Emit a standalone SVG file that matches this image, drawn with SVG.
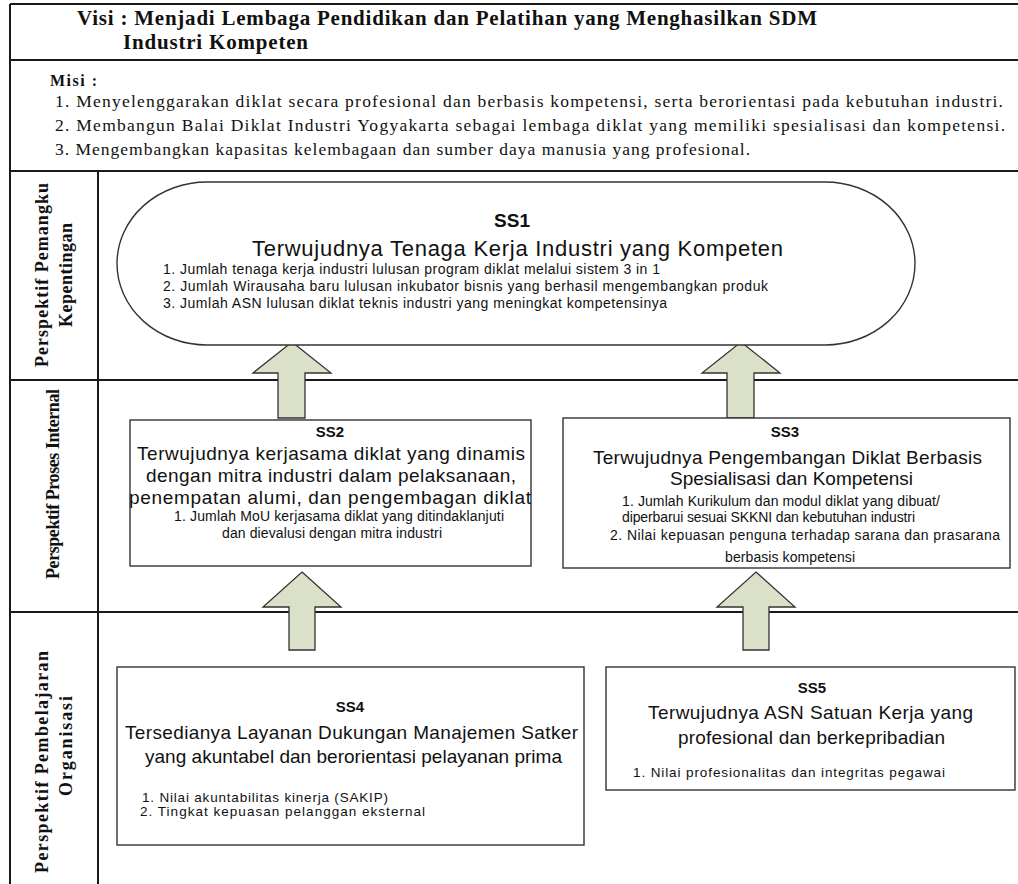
<svg xmlns="http://www.w3.org/2000/svg" width="1018" height="884" viewBox="0 0 1018 884">
<style>
.frame{stroke:#1a1a1a;stroke-width:2;fill:none}
.serifb{font-family:"Liberation Serif","Times New Roman",serif;font-weight:bold;fill:#111}
.serif{font-family:"Liberation Serif","Times New Roman",serif;fill:#111}
.sans{font-family:"Liberation Sans",Arial,sans-serif;fill:#111}
.sansb{font-family:"Liberation Sans",Arial,sans-serif;font-weight:bold;fill:#111}
.box{fill:#fff;stroke:#333;stroke-width:1.4}
.arrow{fill:#dbe1c9;stroke:#333;stroke-width:1.3;stroke-linejoin:miter}
.lane{font-size:18px}
.ttl{font-size:19px}
.itm{font-size:13.5px}
.ss{font-size:15px}
</style>
<rect width="1018" height="884" fill="#fff"/>
<g id="frame">
<line class="frame" x1="10" y1="4" x2="1018" y2="4"/>
<line class="frame" x1="10" y1="4" x2="10" y2="884"/>
<line class="frame" x1="10" y1="60" x2="1018" y2="60"/>
<line class="frame" x1="10" y1="171" x2="1018" y2="171"/>
<line class="frame" x1="98" y1="171" x2="98" y2="884"/>
<line class="frame" x1="10" y1="380" x2="1018" y2="380"/>
<line class="frame" x1="10" y1="612" x2="1018" y2="612"/>
</g>
<g id="visi">
<text class="serifb" font-size="21" x="77" y="25" textLength="740">Visi : Menjadi Lembaga Pendidikan dan Pelatihan yang Menghasilkan SDM</text>
<text class="serifb" font-size="21" x="123" y="49" textLength="185">Industri Kompeten</text>
</g>
<g id="misi">
<text class="serifb" font-size="16" x="50" y="86" textLength="47">Misi :</text>
<text class="serif" font-size="17.5" x="55" y="107" textLength="948">1. Menyelenggarakan diklat secara profesional dan berbasis kompetensi, serta berorientasi pada kebutuhan industri.</text>
<text class="serif" font-size="17.5" x="55" y="131" textLength="950">2. Membangun Balai Diklat Industri Yogyakarta sebagai lembaga diklat yang memiliki spesialisasi dan kompetensi.</text>
<text class="serif" font-size="17.5" x="55" y="155" textLength="695">3. Mengembangkan kapasitas kelembagaan dan sumber daya manusia yang profesional.</text>
</g>
<g id="lane-pemangku">
<text class="serifb lane" text-anchor="middle" transform="translate(48,275) rotate(-90)" textLength="184">Perspektif  Pemangku</text>
<text class="serifb lane" text-anchor="middle" transform="translate(72,275) rotate(-90)" textLength="104">Kepentingan</text>
</g>
<g id="lane-proses">
<text class="serifb lane" text-anchor="middle" transform="translate(59,484) rotate(-90)" textLength="190">Perspektif Proses Internal</text>
</g>
<g id="lane-pembelajaran">
<text class="serifb lane" text-anchor="middle" transform="translate(48,762) rotate(-90)" textLength="222">Perspektif Pembelajaran</text>
<text class="serifb lane" text-anchor="middle" transform="translate(72,746) rotate(-90)" textLength="100">Organisasi</text>
</g>
<g id="connectors">
<path class="arrow" d="M292,342 L331,373 L305,373 L305,418 L278,418 L278,373 L253,373 Z"/>
<path class="arrow" d="M741,342 L780,373 L754,373 L754,418 L727,418 L727,373 L702,373 Z"/>
<path class="arrow" d="M302,572 L341,607 L315,607 L315,650 L289,650 L289,607 L263,607 Z"/>
<path class="arrow" d="M756,572 L795,607 L769,607 L769,650 L743,650 L743,607 L717,607 Z"/>
</g>
<g id="SS1">
<rect class="box" x="117" y="182" width="798" height="163" rx="90" ry="81.5"/>
<text class="sansb" font-size="19" x="512" y="227" text-anchor="middle">SS1</text>
<text class="sans" font-size="22" x="252" y="256" textLength="531">Terwujudnya Tenaga Kerja Industri yang Kompeten</text>
<text class="sans" font-size="14" x="163" y="274" textLength="497">1. Jumlah tenaga kerja industri lulusan program diklat melalui sistem 3 in 1</text>
<text class="sans" font-size="14" x="163" y="291" textLength="605">2. Jumlah Wirausaha baru lulusan inkubator bisnis yang berhasil mengembangkan produk</text>
<text class="sans" font-size="14" x="163" y="308" textLength="504">3. Jumlah ASN lulusan diklat teknis industri yang meningkat kompetensinya</text>
</g>
<g id="SS2">
<rect class="box" x="130" y="420" width="401" height="146"/>
<text class="sansb ss" x="330" y="437" text-anchor="middle">SS2</text>
<text class="sans ttl" x="137" y="460" textLength="388">Terwujudnya kerjasama diklat yang dinamis</text>
<text class="sans ttl" x="146" y="482" textLength="370">dengan mitra industri dalam pelaksanaan,</text>
<text class="sans ttl" x="129" y="504" textLength="402">penempatan alumi, dan pengembagan diklat</text>
<text class="sans" font-size="14" x="174" y="521" textLength="330">1. Jumlah MoU kerjasama diklat yang ditindaklanjuti</text>
<text class="sans" font-size="14" x="222" y="538" textLength="220">dan dievalusi dengan mitra industri</text>
</g>
<g id="SS3">
<rect class="box" x="563" y="418" width="447" height="150"/>
<text class="sansb ss" x="785" y="437" text-anchor="middle">SS3</text>
<text class="sans ttl" x="593" y="464" textLength="389">Terwujudnya Pengembangan Diklat Berbasis</text>
<text class="sans ttl" x="670" y="485" textLength="243">Spesialisasi dan Kompetensi</text>
<text class="sans" font-size="14" x="622" y="506" textLength="318">1. Jumlah Kurikulum dan modul diklat yang dibuat/</text>
<text class="sans" font-size="14" x="622" y="522" textLength="293">diperbarui sesuai SKKNI dan kebutuhan industri</text>
<text class="sans" font-size="14" x="610" y="540" textLength="390">2. Nilai kepuasan penguna terhadap sarana dan prasarana</text>
<text class="sans" font-size="14" x="725" y="562" textLength="130">berbasis kompetensi</text>
</g>
<g id="SS4">
<rect class="box" x="117" y="667" width="467" height="178"/>
<text class="sansb ss" x="350" y="712" text-anchor="middle">SS4</text>
<text class="sans ttl" x="125" y="739" textLength="453">Tersedianya Layanan Dukungan Manajemen Satker</text>
<text class="sans ttl" x="145" y="763" textLength="417">yang akuntabel dan berorientasi pelayanan prima</text>
<text class="sans itm" x="142" y="802" textLength="246">1. Nilai akuntabilitas kinerja (SAKIP)</text>
<text class="sans itm" x="140" y="816" textLength="285">2. Tingkat kepuasan pelanggan eksternal</text>
</g>
<g id="SS5">
<rect class="box" x="606" y="667" width="409" height="123"/>
<text class="sansb ss" x="812" y="693" text-anchor="middle">SS5</text>
<text class="sans ttl" x="648" y="719" textLength="325">Terwujudnya ASN  Satuan Kerja yang</text>
<text class="sans ttl" x="678" y="744" textLength="267">profesional dan berkepribadian</text>
<text class="sans itm" x="633" y="777" textLength="312">1. Nilai profesionalitas dan integritas pegawai</text>
</g>
</svg>
